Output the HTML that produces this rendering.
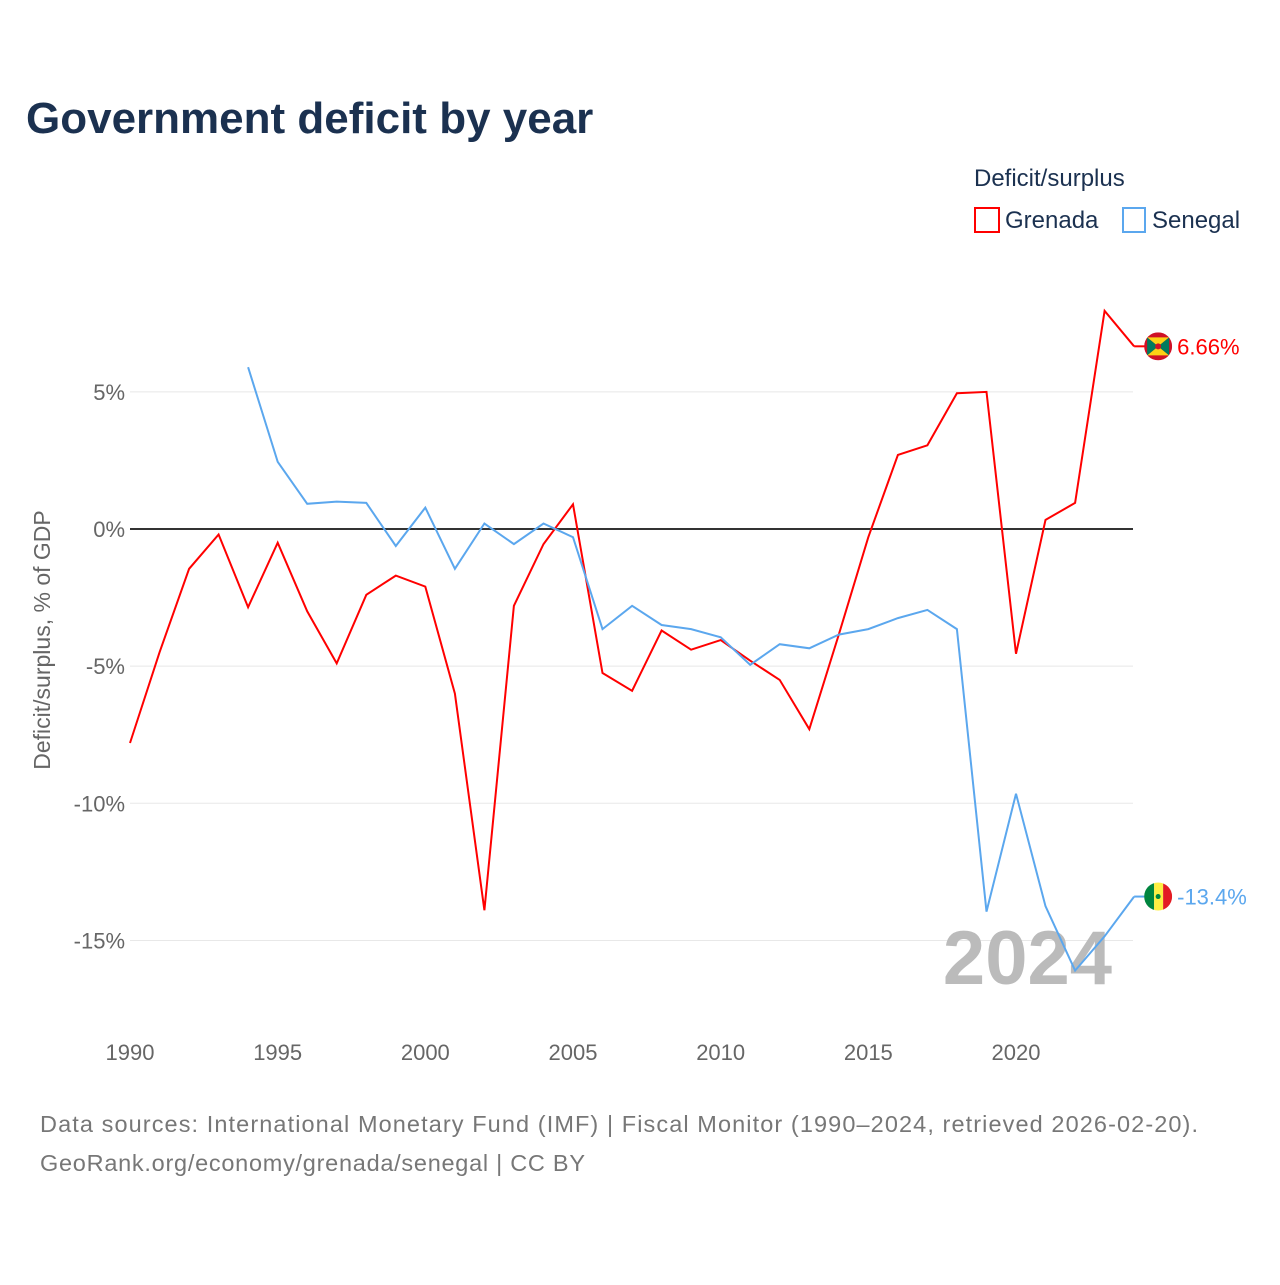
<!DOCTYPE html>
<html><head><meta charset="utf-8"><style>
body{margin:0;background:#fff;width:1280px;height:1280px;overflow:hidden;font-family:"Liberation Sans",sans-serif}
</style></head><body>
<svg width="1280" height="1280" xmlns="http://www.w3.org/2000/svg" font-family="Liberation Sans, sans-serif">
<defs id="defs"></defs>
<text x="26" y="133" font-size="44" font-weight="bold" fill="#1b3150">Government deficit by year</text>
<g>
<text x="974" y="186" font-size="24" fill="#1b3150">Deficit/surplus</text>
<rect x="975" y="208" width="24" height="24" fill="none" stroke="#ff0000" stroke-width="2"/>
<text x="1005" y="228" font-size="24" fill="#1b3150">Grenada</text>
<rect x="1123" y="208" width="22" height="24" fill="none" stroke="#5ba7ee" stroke-width="2"/>
<text x="1152" y="228" font-size="24" fill="#1b3150">Senegal</text>
</g>
<text transform="translate(50,640) rotate(-90)" text-anchor="middle" font-size="23" fill="#666">Deficit/surplus, % of GDP</text>
<g id="grid"></g>
<text x="1112" y="984" text-anchor="end" font-size="76" font-weight="bold" fill="#bbb">2024</text>
<g id="series"></g>
<text x="40" y="1132" font-size="23.5" fill="#777" textLength="1158">Data sources: International Monetary Fund (IMF) | Fiscal Monitor (1990–2024, retrieved 2026-02-20).</text>
<text x="40" y="1171" font-size="23.5" fill="#777" textLength="545">GeoRank.org/economy/grenada/senegal | CC BY</text>
</svg>
<script>
const yTicks=[5,0,-5,-10,-15];
const yTickLabels=["5%","0%","-5%","-10%","-15%"];
const xTicks=[1990,1995,2000,2005,2010,2015,2020];
const grenadaYears=[1990,1991,1992,1993,1994,1995,1996,1997,1998,1999,2000,2001,2002,2003,2004,2005,2006,2007,2008,2009,2010,2011,2012,2013,2014,2015,2016,2017,2018,2019,2020,2021,2022,2023,2024];
const grenadaValues=[-7.8,-4.5,-1.45,-0.2,-2.85,-0.5,-3.0,-4.9,-2.4,-1.7,-2.1,-6.0,-13.9,-2.8,-0.55,0.9,-5.25,-5.9,-3.7,-4.4,-4.05,-4.8,-5.5,-7.3,-3.85,-0.3,2.7,3.05,4.95,5.0,-4.55,0.33,0.95,7.95,6.66];
const senegalYears=[1994,1995,1996,1997,1998,1999,2000,2001,2002,2003,2004,2005,2006,2007,2008,2009,2010,2011,2012,2013,2014,2015,2016,2017,2018,2019,2020,2021,2022,2023,2024];
const senegalValues=[5.9,2.45,0.92,1.0,0.95,-0.62,0.78,-1.45,0.2,-0.55,0.2,-0.3,-3.65,-2.8,-3.5,-3.65,-3.95,-4.95,-4.2,-4.35,-3.85,-3.65,-3.25,-2.95,-3.65,-13.95,-9.65,-13.75,-16.1,-14.85,-13.4];
const X=y=>130+(y-1990)*(886/30);
const Y=v=>529-v*27.43;
const NS="http://www.w3.org/2000/svg";
function mk(t,a,p){const e=document.createElementNS(NS,t);for(const k in a)e.setAttribute(k,a[k]);p.appendChild(e);return e;}
const g=document.getElementById('grid');
yTicks.forEach((v,i)=>{
 const l=mk('line',{x1:130,x2:1133,y1:Y(v),y2:Y(v),stroke:v===0?'#333':'#e8e8e8','stroke-width':v===0?2:1},g);
 
 
 const t=mk('text',{x:125,y:Y(v)+8,'text-anchor':'end','font-size':22,fill:'#666'},g);
 t.textContent=yTickLabels[i];
 
 
});
xTicks.forEach(yr=>{
 const t=mk('text',{x:X(yr),y:1060,'text-anchor':'middle','font-size':22,fill:'#666'},g);
 t.textContent=yr;
 
 
});
const s=document.getElementById('series');
const defs=document.getElementById('defs');
function line(years,vals,color,name,label,flag){
 const d=years.map((yr,i)=>(i?'L':'M')+X(yr).toFixed(1)+','+Y(vals[i]).toFixed(1)).join('');
 const p=mk('path',{d:d,fill:'none',stroke:color,'stroke-width':2},s);
 
 
 const lx=X(years[years.length-1]),ly=Y(vals[vals.length-1]);
 mk('line',{x1:lx,x2:lx+12,y1:ly,y2:ly,stroke:color,'stroke-width':2},s);
 const cx=lx+24;
 const cp=mk('clipPath',{id:'clip-'+name},defs);
 mk('circle',{cx:cx,cy:ly,r:14},cp);
 const gr=mk('g',{'clip-path':'url(#clip-'+name+')'},s);
 
 
 if(flag==='gd'){
  mk('rect',{x:cx-14,y:ly-14,width:28,height:28,fill:'#cf1126'},gr);
  mk('polygon',{points:`${cx-11},${ly-9} ${cx+11},${ly-9} ${cx},${ly}`,fill:'#fcd116'},gr);
  mk('polygon',{points:`${cx-11},${ly+9} ${cx+11},${ly+9} ${cx},${ly}`,fill:'#fcd116'},gr);
  mk('polygon',{points:`${cx-11},${ly-9} ${cx-11},${ly+9} ${cx},${ly}`,fill:'#007a5e'},gr);
  mk('polygon',{points:`${cx+11},${ly-9} ${cx+11},${ly+9} ${cx},${ly}`,fill:'#007a5e'},gr);
  mk('circle',{cx:cx,cy:ly,r:3,fill:'#cf1126'},gr);
 }else{
  mk('rect',{x:cx-14,y:ly-14,width:10,height:28,fill:'#00853f'},gr);
  mk('rect',{x:cx-4,y:ly-14,width:9,height:28,fill:'#fdef42'},gr);
  mk('rect',{x:cx+5,y:ly-14,width:9,height:28,fill:'#e31b23'},gr);
  mk('circle',{cx:cx,cy:ly,r:2.5,fill:'#00853f'},gr);
 }
 const t=mk('text',{x:cx+19,y:ly+8,'font-size':22,fill:color},s);
 t.textContent=label;
 
 
}
line(grenadaYears,grenadaValues,'#ff0000','grenada',grenadaValues[grenadaValues.length-1].toFixed(2)+'%','gd');
line(senegalYears,senegalValues,'#5ba7ee','senegal',senegalValues[senegalValues.length-1].toFixed(1)+'%','sn');
</script>
</body></html>
